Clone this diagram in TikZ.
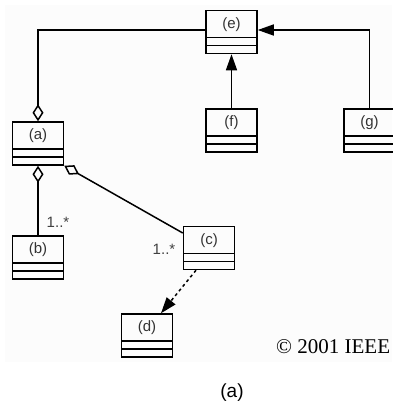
\documentclass[tikz,border=0pt]{standalone}
\usepackage{fontspec}
\setmainfont{Liberation Sans}
\newfontfamily\serifcopy{Liberation Serif}
\usetikzlibrary{arrows.meta}
\tikzset{
	classbox/.style={draw, line width=1.5pt, minimum width=51pt, minimum height=43pt, inner sep=0pt,
		text height=10pt, text depth=18pt, font=\fontsize{15}{17}\selectfont, text=black!80,
		path picture={
			\draw[line width=1.5pt] ([yshift=8pt]path picture bounding box.south west) -- ([yshift=8pt]path picture bounding box.south east);
			\draw[line width=1.5pt] ([yshift=16pt]path picture bounding box.south west) -- ([yshift=16pt]path picture bounding box.south east);
		}},
	link/.style={line width=1.5pt},
	aggr/.style={link, {Diamond[open, length=17pt, width=11pt]}-},
	inherit/.style={link, -{Triangle[length=16pt, width=11pt]}},
	mult/.style={font=\fontsize{15}{17}\selectfont, text=black!75, inner sep=0pt}
}
\begin{document}
\begin{tikzpicture}[x=1pt, y=-1pt]
	\useasboundingbox (0,0) rectangle (392,405);
	\fill[black!1] (5,5) rectangle (392,362);
	
	\node[classbox] (e) at (231.5,32) {(e)};
	\node[classbox] (f) at (231.5,130.5) {(f)};
	\node[classbox] (g) at (369.5,130.5) {(g)};
	\node[classbox] (a) at (38,143.5) {(a)};
	\node[classbox] (b) at (38,257.5) {(b)};
	\node[classbox] (c) at (209,248) {(c)};
	\node[classbox] (d) at (147,335.5) {(d)};
	
	\draw[aggr] (a.north) |- ([yshift=2pt]e.west);
	\draw[aggr] (a.south) -- (b.north);
	\draw[aggr] (a.south east) -- ([yshift=15pt]c.west);
	\draw[inherit] (f.north) -- (e.south);
	\draw[inherit] (g.north) |- ([yshift=2pt]e.east);
	\draw[link, dash pattern=on 3pt off 3pt, -{Triangle[length=16pt, width=11pt]}] ([xshift=-13pt]c.south) -- ([xshift=14pt]d.north);
	
	\node[mult] (mb) at (58,222) {1..*};
	\node[mult] (mc) at (164,249) {1..*};
	
	\node[anchor=base west, inner sep=0pt, font=\serifcopy\fontsize{21}{25}\selectfont] (ieee) at (276,353) {\textcopyright{} 2001 IEEE};
	\node[font=\fontsize{19}{22}\selectfont] (cap) at (232,393) {(a)};
\end{tikzpicture}
\end{document}
